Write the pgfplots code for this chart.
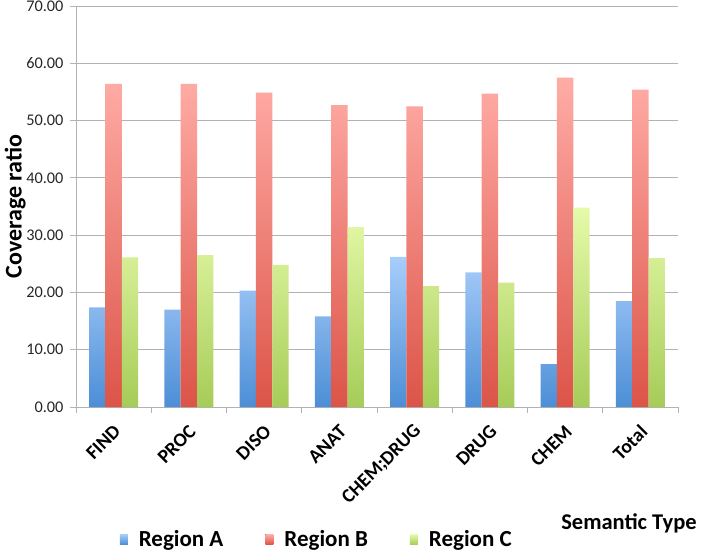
\documentclass[border=0pt]{standalone}
\usepackage{fontspec}
\setmainfont{Carlito}
\usepackage{pgfplots}
\pgfplotsset{compat=1.18}
\definecolor{gridgray}{RGB}{178,178,178}
\definecolor{atop}{RGB}{168,205,250}
\definecolor{abot}{RGB}{76,142,214}
\definecolor{btop}{RGB}{255,172,166}
\definecolor{bbot}{RGB}{220,84,72}
\definecolor{ctop}{RGB}{230,250,170}
\definecolor{cbot}{RGB}{166,204,88}
\begin{document}
\begin{tikzpicture}
\useasboundingbox (-76pt,-145pt) rectangle (627pt,407pt);
\begin{axis}[
  at={(0pt,0pt)}, anchor=south west,
  scale only axis, width=602pt, height=401pt,
  ybar=0pt, bar width=16.4pt,
  xmin=-0.5, xmax=7.5, ymin=0, ymax=70,
  axis lines*=left,
  axis line style={draw=gridgray, line width=0.9pt},
  xtick={0,...,7},
  xticklabels={FIND,PROC,DISO,ANAT,{CHEM;DRUG},DRUG,CHEM,Total},
  major x tick style={draw=none},
  minor xtick={-0.5,0.5,1.5,2.5,3.5,4.5,5.5,6.5,7.5},
  minor x tick style={draw=gridgray, line width=0.9pt},
  minor tick length=6pt,
  ytick={0,10,...,70},
  y tick style={draw=gridgray, line width=0.9pt},
  major tick length=6pt, tick align=outside,
  ymajorgrids, grid style={draw=gridgray, line width=0.9pt},
  /pgf/number format/assume math mode=true,
  yticklabel style={font=\fontsize{16.3}{18}\selectfont, text=black!85, xshift=-3pt, /pgf/number format/.cd, fixed, fixed zerofill, precision=2},
  xticklabel style={font=\fontsize{19.5}{21}\selectfont\bfseries, xshift=6pt, yshift=-13pt, rotate=45, anchor=east},
  ylabel={Coverage ratio},
  ylabel style={font=\fontsize{24}{27}\selectfont\bfseries, at={(axis description cs:-0.101,0.5)}, anchor=center, rotate=0},
  xlabel={Semantic Type},
  xlabel style={font=\fontsize{22.5}{25}\selectfont\bfseries, at={(axis description cs:1.037,-0.289)}, anchor=east},
  legend columns=3,
  legend style={at={(axis description cs:0.400,-0.330)}, anchor=center, draw=none, fill=none,
    font=\fontsize{23}{26}\selectfont\bfseries,
    /tikz/every even column/.append style={column sep=40pt},
    /tikz/every odd column/.append style={column sep=9pt}},
  legend image code/.code={\fill[#1] (0pt,-5pt) rectangle (8pt,5pt);},
  clip=false,
]
\addplot[draw=none, top color=atop, bottom color=abot] coordinates {
(0,17.4) (1,17.0) (2,20.3) (3,15.8) (4,26.2) (5,23.5) (6,7.5) (7,18.5)};
\addplot[draw=none, top color=btop, bottom color=bbot] coordinates {
(0,56.4) (1,56.4) (2,54.9) (3,52.7) (4,52.5) (5,54.7) (6,57.5) (7,55.4)};
\addplot[draw=none, top color=ctop, bottom color=cbot] coordinates {
(0,26.1) (1,26.5) (2,24.8) (3,31.4) (4,21.1) (5,21.7) (6,34.8) (7,26.0)};
\legend{Region A,Region B,Region C}
\end{axis}
\end{tikzpicture}
\end{document}
